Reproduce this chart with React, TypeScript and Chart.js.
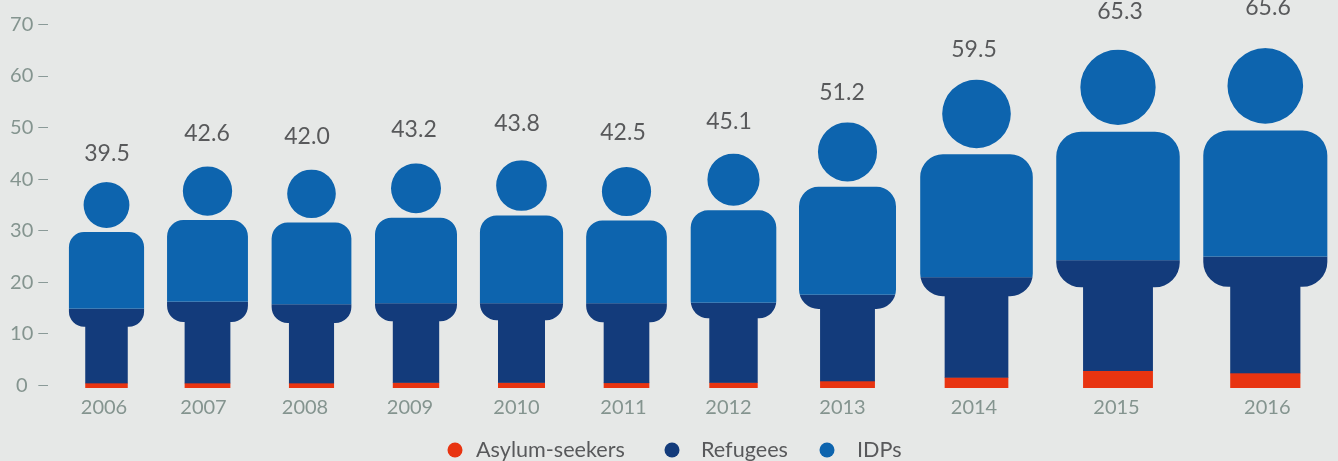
import React, { useEffect, useRef } from "react";
import { Chart, registerables } from "chart.js";

Chart.register(...registerables);

const years = ["2006","2007","2008","2009","2010","2011","2012","2013","2014","2015","2016"];
const totals = [39.5, 42.6, 42.0, 43.2, 43.8, 42.5, 45.1, 51.2, 59.5, 65.3, 65.6];
const asylumSeekers = [1.0, 1.0, 1.0, 1.1, 1.1, 1.05, 1.1, 1.4, 2.1, 3.4, 2.95];
const refugees = [14.4, 15.75, 15.25, 15.35, 15.35, 15.4, 15.45, 16.7, 19.4, 21.4, 22.55];
const idps = [24.55, 26.25, 26.15, 27.15, 27.75, 26.45, 28.95, 33.45, 38.35, 40.85, 40.45];

// Axis positions along the (non-uniform) horizontal axis
const figurePositions = [106.5, 207.5, 311.5, 416, 521.5, 626.5, 733.5, 847.5, 976.5, 1118, 1265.3];
const tickPositions = [104, 203.5, 305, 410, 516.5, 623.5, 728.5, 842.5, 974, 1116.5, 1267.3];
const valuePositions = [107, 207, 307, 414, 517, 623, 729, 842, 974, 1120, 1268];
const valueGaps = [29, 33, 33, 34, 37, 34, 32, 30, 30, 38, 40];
const legendSwatchX = [455, 672, 827];
const legendTextX = [476, 701, 857];

const C_IDP = "#0d64ae";
const C_REF = "#133b7b";
const C_ASY = "#e83411";
const C_BG = "#e6e8e7";
const C_TICK = "#84948f";
const C_TEXT = "#58595b";
const FONT = "Lato";
const BASE_SHIFT = 2.7;

const figurePlugin = {
  id: "figures",
  beforeDatasetsDraw(chart: any) {
    const { ctx } = chart;
    const metas = [0, 1, 2].map((d) => chart.getDatasetMeta(d));
    const zero = chart.scales.y.getPixelForValue(0) + BASE_SHIFT;
    years.forEach((_, i) => {
      const top = metas[2].data[i].y + BASE_SHIFT;
      const cx = metas[2].data[i].x;
      const h = zero - top;
      const w = h * 0.365;
      const legs = h * 0.2065;
      const d = h * 0.2225;
      const tTop = top + h * 0.2425;
      const tBot = top + h * 0.7025;
      const r = h * 0.0735;
      ctx.save();
      ctx.beginPath();
      ctx.arc(cx, top + d / 2, d / 2, 0, Math.PI * 2);
      ctx.closePath();
      ctx.roundRect(cx - w / 2, tTop, w, tBot - tTop, r);
      ctx.rect(cx - legs / 2, tBot - 1, legs, zero - tBot + 1);
      ctx.clip();
      metas.forEach((m, k) => {
        const el = m.data[i];
        ctx.fillStyle = chart.data.datasets[k].backgroundColor;
        ctx.fillRect(cx - w, el.y + BASE_SHIFT, w * 2, el.base - el.y + (k < 2 ? 0.5 : 0));
      });
      ctx.restore();
      ctx.fillStyle = C_TEXT;
      ctx.font = `23px ${FONT}`;
      ctx.textAlign = "center";
      ctx.textBaseline = "middle";
      ctx.fillText(totals[i].toFixed(1), valuePositions[i], top - valueGaps[i]);
    });
    // legend
    chart.data.datasets.forEach((ds: any, k: number) => {
      ctx.fillStyle = ds.backgroundColor;
      ctx.beginPath();
      ctx.arc(legendSwatchX[k], 450, 7.5, 0, Math.PI * 2);
      ctx.fill();
      ctx.fillStyle = C_TEXT;
      ctx.font = `21.6px ${FONT}`;
      ctx.textAlign = "left";
      ctx.textBaseline = "middle";
      ctx.fillText(ds.label, legendTextX[k], 450);
    });
    return false;
  },
};

export default function App() {
  const ref = useRef<HTMLCanvasElement>(null);
  useEffect(() => {
    document.body.style.margin = "0";
    document.body.style.background = C_BG;
    const toPoints = (arr: number[]) => arr.map((y, i) => ({ x: figurePositions[i], y }));
    const chart = new Chart(ref.current!, {
      type: "bar",
      data: {
        datasets: [
          { label: "Asylum-seekers", data: toPoints(asylumSeekers), backgroundColor: C_ASY, borderWidth: 0 },
          { label: "Refugees", data: toPoints(refugees), backgroundColor: C_REF, borderWidth: 0 },
          { label: "IDPs", data: toPoints(idps), backgroundColor: C_IDP, borderWidth: 0 },
        ],
      } as any,
      options: {
        responsive: false,
        animation: false,
        layout: { padding: { top: 24.5, left: 0, right: 0, bottom: 0 } },
        datasets: { bar: { barThickness: 40 } },
        plugins: {
          tooltip: { enabled: false },
          legend: { display: false },
        },
        scales: {
          x: {
            type: "linear",
            stacked: true,
            offset: false,
            min: 48.3,
            max: 1338,
            grid: { display: false, offset: false },
            border: { display: false },
            afterBuildTicks: (axis: any) => {
              axis.ticks = tickPositions.map((value) => ({ value }));
            },
            afterFit: (axis: any) => {
              axis.height = 75.7;
            },
            ticks: {
              display: true,
              autoSkip: false,
              maxRotation: 0,
              minRotation: 0,
              padding: 2,
              color: C_TICK,
              font: { family: FONT, size: 20 },
              callback: (_v: any, i: number) => years[i],
            },
          },
          y: {
            stacked: true,
            min: 0,
            max: 70,
            afterFit: (axis: any) => {
              axis.width = 48.3;
            },
            grid: { drawOnChartArea: false, drawTicks: true, tickLength: 10, tickColor: "#8a9a98", tickWidth: 1 },
            border: { display: false },
            ticks: {
              stepSize: 10,
              padding: 5,
              crossAlign: "center",
              color: C_TICK,
              font: { family: FONT, size: 20 },
            },
          },
        },
      } as any,
      plugins: [figurePlugin as any],
    });
    return () => chart.destroy();
  }, []);
  return <canvas ref={ref} width={1338} height={461} style={{ display: "block" }} />;
}
